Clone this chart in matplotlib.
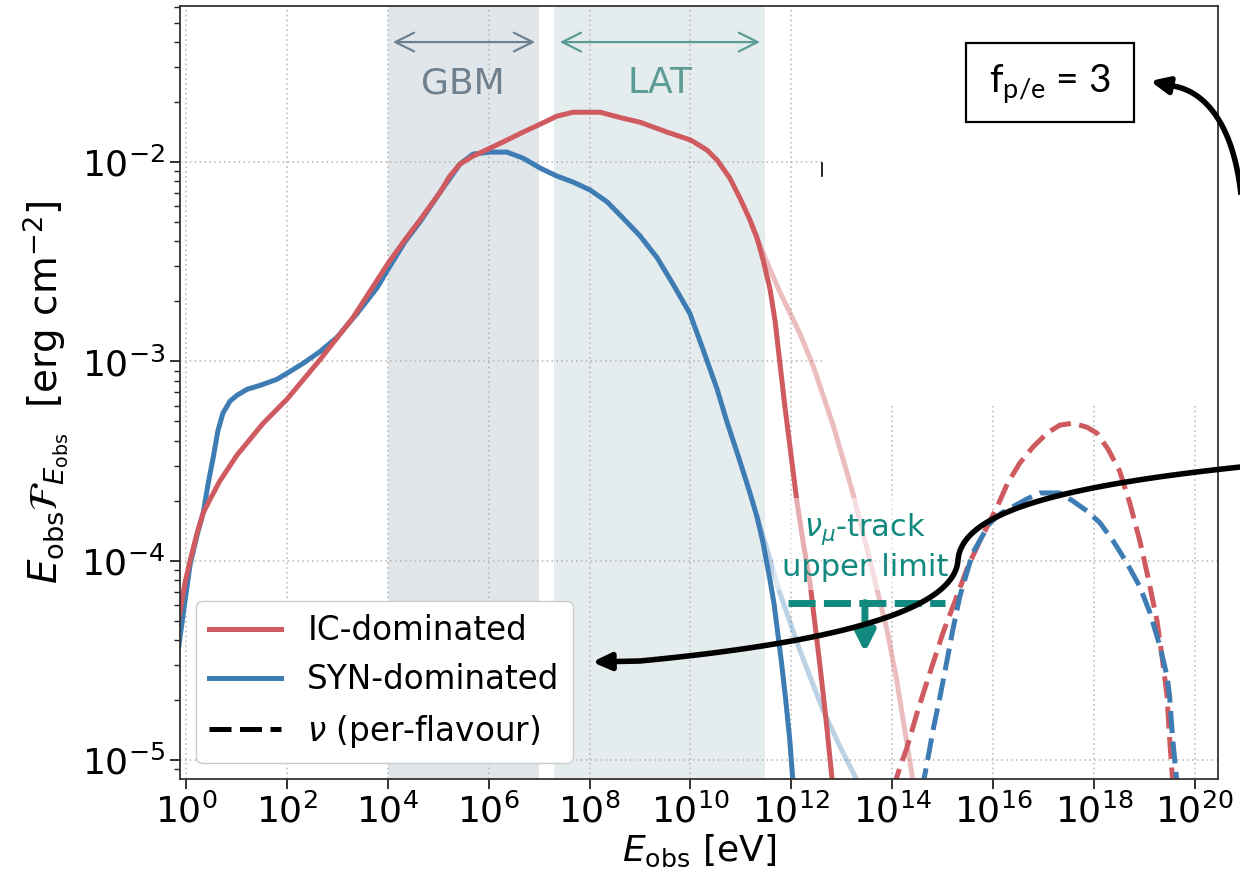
import numpy as np
import matplotlib
matplotlib.use("Agg")
import matplotlib.pyplot as plt
from matplotlib.lines import Line2D
from matplotlib.patches import Rectangle, FancyArrowPatch
from matplotlib.path import Path
from matplotlib.transforms import Affine2D
from matplotlib.ticker import FixedLocator, LogLocator, NullLocator, LogFormatterSciNotation

# ---- photon spectra: log10(E_obs / eV) and log10(E F_E / erg cm^-2) ----
ic_logE = [-0.15, -0.02, 0.08, 0.22, 0.34, 0.48, 0.67, 1.01, 1.53, 2.00, 2.66, 3.31, 4.00,
           4.34, 4.64, 5.04, 5.23, 5.43, 5.69, 6.03, 6.36, 6.68, 7.02, 7.35, 7.67, 7.87,
           8.21, 8.66, 9.00, 9.54, 10.01, 10.33, 10.53, 10.78, 10.98, 11.18, 11.32, 11.44,
           11.58, 11.68, 11.77, 11.87, 11.97, 12.11, 12.23, 12.37, 12.47, 12.57, 12.69,
           12.81, 12.83]
ic_logF = [-4.30, -4.11, -4.00, -3.86, -3.76, -3.69, -3.60, -3.47, -3.31, -3.19, -2.99, -2.78,
           -2.51, -2.39, -2.29, -2.15, -2.07, -2.01, -1.97, -1.93, -1.89, -1.85, -1.81, -1.77,
           -1.75, -1.75, -1.75, -1.78, -1.80, -1.85, -1.89, -1.94, -1.99, -2.08, -2.18, -2.29,
           -2.38, -2.49, -2.64, -2.80, -3.00, -3.22, -3.42, -3.70, -3.90, -4.11, -4.32, -4.53,
           -4.80, -5.10, -5.16]

syn_logE = [-0.15, -0.02, 0.08, 0.22, 0.34, 0.44, 0.54, 0.63, 0.73, 0.87, 1.01, 1.21, 1.47,
            1.80, 2.00, 2.32, 2.66, 2.99, 3.39, 3.79, 4.00, 4.34, 4.64, 5.04, 5.43, 5.69, 6.03,
            6.36, 6.68, 7.02, 7.35, 7.67, 8.01, 8.35, 8.66, 9.00, 9.34, 9.65, 9.99, 10.25,
            10.53, 10.72, 10.98, 11.18, 11.32, 11.44, 11.58, 11.66, 11.73, 11.81, 11.89, 11.97,
            12.03, 12.05]
syn_logF = [-4.44, -4.20, -4.02, -3.87, -3.76, -3.61, -3.48, -3.35, -3.26, -3.20, -3.17, -3.14,
            -3.12, -3.09, -3.06, -3.01, -2.95, -2.88, -2.76, -2.63, -2.54, -2.40, -2.30, -2.15,
            -2.01, -1.96, -1.95, -1.95, -1.98, -2.03, -2.07, -2.10, -2.14, -2.20, -2.28, -2.37,
            -2.48, -2.61, -2.76, -2.94, -3.14, -3.30, -3.50, -3.66, -3.78, -3.91, -4.10, -4.22,
            -4.36, -4.52, -4.70, -4.90, -5.10, -5.15]

# spectra without internal gamma-gamma absorption (faded)
ic_noabs_logE = [11.22, 11.48, 11.77, 12.17, 12.43, 12.83, 13.22, 13.56, 13.90, 14.09, 14.25,
                 14.41, 14.45]
ic_noabs_logF = [-2.32, -2.48, -2.65, -2.86, -3.02, -3.32, -3.66, -4.00, -4.35, -4.60, -4.85,
                 -5.10, -5.18]
syn_noabs_logE = [11.32, 11.54, 11.77, 12.17, 12.63, 12.96, 13.30, 13.40]
syn_noabs_logF = [-3.78, -3.96, -4.16, -4.45, -4.75, -4.93, -5.10, -5.15]

# ---- per-flavour neutrino spectra ----
nu_ic_logE = [14.01, 14.15, 14.29, 14.51, 14.75, 15.01, 15.28, 15.50, 15.74, 16.08, 16.29,
              16.53, 16.79, 17.07, 17.32, 17.58, 17.86, 18.06, 18.28, 18.51, 18.71, 18.91,
              19.07, 19.25, 19.35, 19.45, 19.50, 19.56, 19.58]
nu_ic_logF = [-5.15, -5.04, -4.94, -4.75, -4.56, -4.36, -4.18, -4.03, -3.90, -3.73, -3.61,
              -3.51, -3.43, -3.36, -3.32, -3.31, -3.33, -3.36, -3.44, -3.55, -3.71, -3.90,
              -4.08, -4.30, -4.48, -4.68, -4.89, -5.10, -5.18]
nu_syn_logE = [14.59, 14.71, 14.81, 14.95, 15.08, 15.20, 15.34, 15.48, 15.60, 15.78, 15.94,
               16.17, 16.39, 16.67, 16.93, 17.13, 17.32, 17.58, 17.86, 18.12, 18.38, 18.65,
               18.91, 19.11, 19.31, 19.45, 19.50, 19.56, 19.64, 19.66]
nu_syn_logF = [-5.15, -4.99, -4.85, -4.68, -4.51, -4.35, -4.18, -4.06, -3.96, -3.88, -3.81,
               -3.76, -3.73, -3.69, -3.66, -3.66, -3.66, -3.70, -3.75, -3.81, -3.90, -4.01,
               -4.13, -4.26, -4.43, -4.58, -4.68, -4.89, -5.10, -5.18]

# nu_mu track upper limit
ul_logE = [11.93, 15.04]
ul_logF = -4.21
ul_arrow_logE = 13.46
ul_arrow_end_logF = -4.46

# instrument energy bands [eV]
gbm_band = (1e4, 1e7)
lat_band = (2e7, 3e11)

legend_labels = ['IC-dominated', 'SYN-dominated', r'$\nu$ (per-flavour)']

RED = '#cf5a5f'
BLUE = '#3e7cb4'
TEAL = '#11897e'
GBM_C = '#6f808f'
LAT_C = '#5b9c94'


def arr(v):
    return 10.0 ** np.asarray(v, dtype=float)


fig = plt.figure(figsize=(12.4, 8.82), dpi=100)
ax = fig.add_axes([180 / 1240, 103 / 882, 1038 / 1240, 773 / 882])
ax.set_xscale('log')
ax.set_yscale('log')
ax.set_xlim(10 ** -0.12, 10 ** 20.46)
ax.set_ylim(10 ** -5.095, 10 ** -1.217)

# bands
ax.axvspan(*gbm_band, color='#e1e6ea', lw=0, zorder=0.2)
ax.axvspan(*lat_band, color='#e5ecee', lw=0, zorder=0.2)

# grid
ax.set_axisbelow(True)
ax.grid(True, which='major', ls=(0, (1, 2.2)), lw=1.1, color='#b3b3b3')
ax.add_patch(Rectangle((10 ** 12.63, 10 ** -3.224), 1e21, 1.0, facecolor='white',
                       edgecolor='none', zorder=0.8))

LW = 3.6
DASH = (4.4, 1.7)
ax.plot(arr(syn_noabs_logE), arr(syn_noabs_logF), color=BLUE, alpha=0.35, lw=LW, zorder=1.9)
ax.plot(arr(ic_noabs_logE), arr(ic_noabs_logF), color=RED, alpha=0.4, lw=LW, zorder=1.9)
ax.plot(arr(syn_logE), arr(syn_logF), color=BLUE, lw=LW, zorder=2.1)
ax.plot(arr(ic_logE), arr(ic_logF), color=RED, lw=LW, zorder=2.2)
ax.plot(arr(nu_ic_logE), arr(nu_ic_logF), color=RED, lw=LW, dashes=DASH, zorder=2.1)
ax.plot(arr(nu_syn_logE), arr(nu_syn_logF), color=BLUE, lw=LW, dashes=DASH, zorder=2.2)

# upper limit
ax.text(10 ** ul_arrow_logE, 10 ** -3.93, r'$\nu_\mu$-track' + '\nupper limit', color=TEAL,
        fontsize=22, ha='center', va='center', linespacing=1.25, zorder=3,
        bbox=dict(facecolor='white', alpha=0.5, edgecolor='none', pad=6))
ax.plot(arr(ul_logE), [10 ** ul_logF] * 2, color=TEAL, lw=5, dashes=(3.9, 1.2), zorder=3.2)
ax.annotate('', xy=(10 ** ul_arrow_logE, 10 ** ul_arrow_end_logF),
            xytext=(10 ** ul_arrow_logE, 10 ** ul_logF),
            arrowprops=dict(arrowstyle='-|>,head_length=0.6,head_width=0.3', color=TEAL,
                            lw=5, mutation_scale=20, shrinkA=0, shrinkB=0), zorder=3.2)

# band markers
ax.annotate('', xy=(10 ** 4.1, 0.04), xytext=(10 ** 6.92, 0.04),
            arrowprops=dict(arrowstyle='<->,head_length=0.9,head_width=0.45', color=GBM_C,
                            lw=1.6, mutation_scale=15, shrinkA=0, shrinkB=0))
ax.annotate('', xy=(10 ** 7.41, 0.04), xytext=(10 ** 11.38, 0.04),
            arrowprops=dict(arrowstyle='<->,head_length=0.9,head_width=0.45', color=LAT_C,
                            lw=1.6, mutation_scale=15, shrinkA=0, shrinkB=0))
ax.text(10 ** 5.49, 10 ** -1.604, 'GBM', color=GBM_C, fontsize=26, ha='center', va='center')
ax.text(10 ** 9.40, 10 ** -1.604, 'LAT', color=LAT_C, fontsize=26, ha='center', va='center')

# axes styling
ax.xaxis.set_major_locator(FixedLocator(10.0 ** np.arange(0, 21, 2)))
ax.xaxis.set_minor_locator(NullLocator())
ax.xaxis.set_major_formatter(LogFormatterSciNotation())
ax.yaxis.set_major_locator(LogLocator(base=10, numticks=20))
ax.yaxis.set_minor_locator(LogLocator(base=10, subs=np.arange(2, 10), numticks=20))
ax.tick_params(which='major', length=7, width=1.3, labelsize=26, color='#222222')
ax.tick_params(which='minor', length=4, width=1.0, color='#222222')
for s in ax.spines.values():
    s.set_color('#333333')
    s.set_linewidth(1.3)

ax.set_xlabel(r'$E_{\rm obs}$ [eV]', fontsize=26, labelpad=2)
ax.set_ylabel(r'$E_{\rm obs}\mathcal{F}_{E_{\rm obs}}$  [erg cm$^{-2}$]', fontsize=28, labelpad=8)

handles = [Line2D([], [], color=RED, lw=LW),
           Line2D([], [], color=BLUE, lw=LW),
           Line2D([], [], color='black', lw=LW, dashes=DASH)]
leg = ax.legend(handles, legend_labels, loc='lower left', fontsize=23.5, handlelength=2.2,
                framealpha=1, edgecolor='#cccccc', fancybox=True, borderaxespad=0.5)
leg.set_zorder(5)

# ---- overlay annotations in figure pixel coordinates (origin top-left) ----
px = Affine2D().scale(1 / 1240, -1 / 882).translate(0, 1) + fig.transFigure


def bezier(p0, c1, c2, p3, n=60):
    t = np.linspace(0, 1, n)[:, None]
    p0, c1, c2, p3 = (np.asarray(p, dtype=float) for p in (p0, c1, c2, p3))
    return ((1 - t) ** 3) * p0 + 3 * ((1 - t) ** 2) * t * c1 + 3 * (1 - t) * t ** 2 * c2 + t ** 3 * p3


def curved_arrow(pieces, tip):
    verts = np.vstack(pieces + [np.asarray(tip, dtype=float)[None]])
    codes = [Path.MOVETO] + [Path.LINETO] * (len(verts) - 1)
    arrow = FancyArrowPatch(path=Path(verts, codes),
                            arrowstyle='-|>,head_length=0.55,head_width=0.25',
                            mutation_scale=20, color='black', lw=4, transform=px,
                            joinstyle='round', capstyle='butt')
    fig.add_artist(arrow)


curved_arrow([bezier((1243, 230), (1242, 135), (1210, 92), (1173, 86))], (1150, 81))
curved_arrow([bezier((1260, 465), (1060, 485), (962, 512), (958, 560)),
              bezier((958, 560), (955, 605), (860, 640), (640, 661))[1:]],
             (592, 662))

fig.add_artist(Rectangle((966, 43), 168, 79, transform=px, fill=False, ec='black', lw=1.6))
fig.text(1050, 84, r'f$_{\mathregular{p/e}}$ = 3', transform=px, fontsize=28,
         family='Lato', ha='center', va='center')
fig.add_artist(Line2D([822, 822], [163, 176], transform=px, color='black', lw=1.2))

fig.savefig('out.png', dpi=100)
